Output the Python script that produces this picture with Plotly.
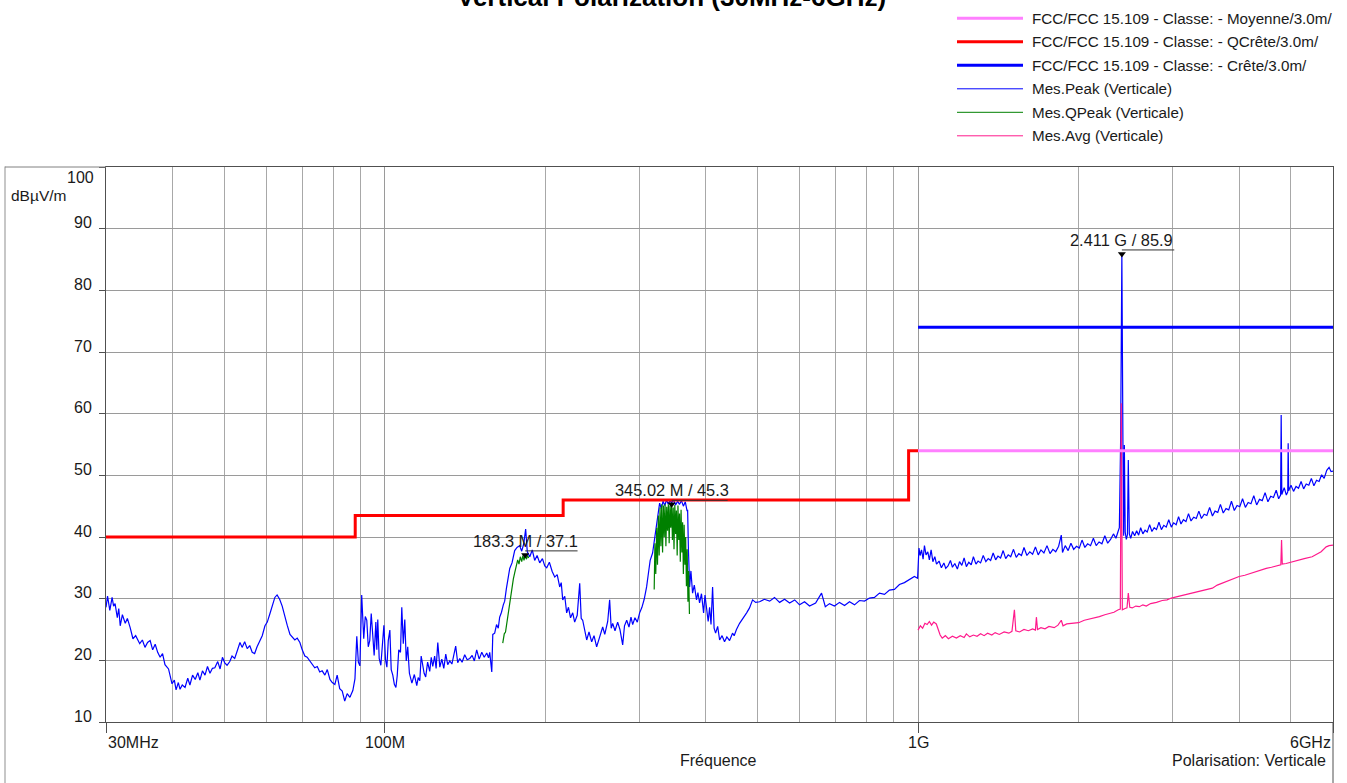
import numpy as np
import plotly.graph_objects as go

# ---------------------------------------------------------------- data
# Limit lines (frequency in MHz, level in dBuV/m)
LIMIT_QPEAK = [(30, 40.0), (88, 40.0), (88, 43.5), (216, 43.5), (216, 46.0),
               (960, 46.0), (960, 54.0), (1000, 54.0)]
LIMIT_AVG = [(1000, 54.0), (6000, 54.0)]
LIMIT_PEAK = [(1000, 74.0), (6000, 74.0)]

# Peak detector sweep, vertical polarisation
PEAK = [
    (30.0, 28.6), (30.2, 30.4), (30.5, 28.1), (30.8, 30.2), (31.0, 28.8), (31.2, 29.2),
    (31.5, 26.9), (31.7, 28.4), (31.9, 25.6), (32.2, 27.4), (32.6, 26.0), (32.9, 26.8),
    (33.3, 25.3), (33.7, 23.5), (34.1, 24.0), (34.7, 22.7), (35.1, 23.3), (35.5, 22.1),
    (35.9, 22.9), (36.3, 23.2), (36.7, 21.7), (37.1, 22.6), (37.5, 21.3), (37.9, 20.5),
    (38.3, 21.1), (38.7, 19.3), (39.3, 18.6), (39.9, 16.2), (40.3, 16.8), (40.6, 15.2),
    (41.0, 16.4), (41.3, 15.3), (41.7, 16.0), (42.2, 15.6), (42.7, 17.1), (43.1, 16.0),
    (43.6, 17.6), (44.1, 16.9), (44.6, 18.0), (45.0, 16.8), (45.5, 18.3), (46.0, 17.6),
    (46.5, 19.0), (47.0, 17.9), (47.5, 18.7), (48.0, 18.8), (48.6, 19.8), (49.1, 18.6),
    (49.6, 20.5), (50.1, 19.6), (50.6, 19.2), (51.2, 19.8), (51.7, 20.7), (52.3, 20.3),
    (52.9, 21.6), (53.5, 22.9), (54.0, 22.1), (54.6, 23.0), (55.2, 21.9), (55.8, 22.4),
    (56.4, 21.3), (57.0, 21.1), (57.6, 22.2), (58.3, 23.3), (58.9, 24.0), (59.6, 25.6),
    (60.2, 26.2), (60.9, 27.6), (61.5, 29.0), (62.2, 30.2), (62.8, 30.6), (63.5, 29.9),
    (64.2, 28.8), (64.9, 27.1), (65.6, 25.7), (66.4, 24.2), (67.1, 23.7), (67.8, 23.3),
    (68.5, 23.6), (69.3, 22.9), (70.0, 21.7), (70.8, 20.7), (71.5, 20.5), (72.3, 19.9),
    (73.1, 19.4), (73.9, 18.8), (74.7, 19.0), (75.5, 18.1), (76.3, 18.3), (77.2, 17.6),
    (78.0, 18.5), (78.9, 16.9), (79.7, 16.4), (80.6, 16.1), (81.4, 17.6), (82.3, 15.4),
    (83.2, 15.0), (84.1, 13.4), (85.0, 14.6), (86.0, 14.0), (87.1, 15.1), (87.9, 17.0),
    (88.6, 23.9), (89.2, 19.7), (89.8, 19.1), (90.5, 30.6), (91.3, 23.5), (91.9, 27.1),
    (92.5, 26.5), (93.1, 22.2), (93.7, 23.2), (94.3, 27.6), (94.9, 24.2), (95.5, 20.8),
    (96.2, 26.2), (96.6, 21.7), (97.0, 26.6), (97.6, 20.3), (98.3, 19.2), (98.9, 22.7),
    (99.6, 25.7), (100.3, 20.1), (100.9, 18.9), (101.5, 23.2), (102.2, 24.9), (102.8, 18.5),
    (103.5, 17.6), (104.2, 16.1), (104.9, 15.6), (105.5, 17.5), (106.2, 21.7), (107.0, 21.3),
    (107.6, 28.6), (108.3, 22.7), (109.0, 26.6), (109.7, 19.9), (110.4, 22.2), (111.2, 17.9),
    (112.4, 16.3), (113.6, 17.7), (114.8, 15.9), (115.5, 17.2), (116.3, 16.7), (117.0, 20.7),
    (117.8, 19.5), (118.5, 17.9), (119.3, 17.3), (120.3, 19.7), (121.4, 18.2), (122.2, 20.5),
    (123.0, 19.0), (124.0, 20.7), (124.8, 18.7), (125.7, 22.9), (126.8, 18.9), (127.9, 20.2),
    (129.0, 18.7), (130.1, 21.0), (131.2, 19.3), (132.4, 19.9), (133.6, 19.4), (134.7, 20.7),
    (135.8, 22.3), (137.0, 19.6), (138.2, 20.3), (139.6, 19.7), (141.2, 20.9), (142.7, 20.1),
    (144.3, 20.3), (145.8, 20.8), (147.2, 19.9), (148.7, 21.7), (150.3, 20.2), (152.0, 21.3),
    (153.6, 20.5), (155.3, 21.2), (156.5, 20.4), (157.3, 21.3), (158.7, 18.1), (159.4, 24.2),
    (160.7, 24.4), (162.0, 25.8), (163.2, 25.2), (164.2, 27.0), (165.5, 27.8), (166.8, 29.0),
    (167.8, 29.6), (169.0, 31.6), (170.2, 33.2), (171.5, 34.9), (173.2, 35.8), (175.2, 37.8),
    (177.0, 38.3), (179.0, 38.6), (180.6, 37.7), (182.2, 38.9), (183.7, 41.3), (185.0, 37.6),
    (187.0, 36.8), (189.0, 37.9), (191.0, 36.2), (193.0, 37.0), (195.2, 35.8), (197.5, 36.5),
    (199.5, 35.3), (201.2, 35.0), (203.5, 35.9), (206.0, 34.4), (208.3, 33.5), (210.5, 33.9),
    (212.8, 31.9), (214.2, 32.6), (215.6, 29.8), (217.5, 30.4), (219.3, 27.7), (221.0, 28.6),
    (223.0, 26.9), (225.1, 27.7), (227.0, 26.2), (229.5, 27.3), (232.0, 32.5), (233.5, 26.8),
    (235.0, 26.5), (237.0, 25.0), (239.1, 23.3), (241.5, 24.6), (244.3, 23.0), (246.8, 24.0),
    (249.6, 22.2), (252.5, 23.6), (256.2, 25.4), (258.5, 24.2), (261.8, 26.3), (264.0, 29.8),
    (265.8, 25.2), (267.5, 26.0), (270.2, 24.8), (273.3, 26.2), (276.0, 25.0), (279.3, 22.5),
    (281.5, 25.6), (284.2, 26.5), (287.0, 25.4), (289.5, 27.0), (291.6, 25.8), (294.5, 26.9),
    (297.5, 26.2), (300.5, 27.7), (303.5, 28.6), (306.5, 29.9), (309.7, 31.9), (312.0, 34.0),
    (314.5, 36.2), (317.8, 37.4), (320.5, 39.8), (323.5, 41.6), (325.5, 43.4), (327.6, 45.5),
    (330.0, 44.6), (332.5, 45.8), (335.0, 45.1), (337.5, 46.0), (340.0, 45.3), (342.5, 45.9),
    (345.0, 45.6), (348.0, 46.0), (351.0, 45.2), (354.0, 45.8), (357.0, 45.3), (360.0, 45.9),
    (363.0, 45.0), (366.0, 45.7), (368.9, 44.2), (369.7, 44.4), (371.0, 38.0), (372.9, 31.9),
    (375.0, 34.5), (377.7, 30.9), (380.5, 32.2), (384.2, 29.8), (386.5, 31.0), (389.3, 29.3),
    (392.5, 30.8), (396.1, 27.7), (398.5, 30.6), (401.3, 28.0), (404.0, 26.3), (406.5, 28.6),
    (409.0, 25.8), (411.8, 31.9), (414.5, 25.2), (417.2, 24.4), (420.9, 25.5), (424.5, 23.3),
    (429.0, 24.0), (433.6, 23.0), (438.0, 23.8), (443.1, 23.2), (448.8, 24.4), (452.0, 24.0),
    (456.5, 25.0), (462.7, 26.0), (468.0, 26.6), (477.0, 27.7), (483.0, 28.5), (489.4, 29.8),
    (496.0, 29.4), (504.5, 29.5), (515.0, 29.9), (526.8, 29.6), (538.0, 30.2), (550.0, 29.4),
    (562.0, 29.9), (574.3, 29.3), (587.0, 29.8), (599.5, 29.0), (612.5, 29.5), (625.9, 28.8),
    (642.5, 29.3), (659.2, 30.9), (670.0, 28.7), (682.3, 29.2), (697.0, 28.8), (712.4, 29.4),
    (728.0, 28.9), (743.8, 29.5), (760.0, 29.0), (776.5, 29.7), (793.5, 29.6), (810.8, 30.1),
    (828.5, 30.2), (846.5, 30.9), (865.0, 30.7), (883.8, 31.4), (903.0, 31.5), (922.7, 32.3),
    (942.8, 32.6), (963.3, 33.1), (984.3, 33.6), (998.0, 33.3),
    (1000, 36.8), (1004, 38.2), (1009, 37.0), (1015, 37.9), (1022, 36.4), (1028, 38.6),
    (1035, 37.1), (1043, 37.6), (1050, 36.3), (1058, 37.9), (1066, 36.0), (1075, 36.8),
    (1083, 35.6), (1095, 36.1), (1106, 35.0), (1118, 35.8), (1127, 34.9), (1138, 35.3),
    (1150, 36.2), (1160, 35.1), (1172, 35.7), (1185, 34.8), (1196, 36.0), (1208, 35.4),
    (1220, 36.6), (1232, 35.2), (1245, 35.9), (1258, 35.5), (1270, 36.8), (1284, 35.6),
    (1296, 36.1), (1310, 35.8), (1325, 37.0), (1340, 36.0), (1354, 36.5), (1368, 36.2),
    (1383, 37.4), (1398, 36.3), (1412, 36.9), (1428, 36.6), (1444, 37.8), (1460, 36.5),
    (1476, 37.1), (1492, 36.8), (1510, 38.0), (1528, 36.7), (1545, 37.3), (1563, 37.0),
    (1580, 38.3), (1600, 37.0), (1620, 37.6), (1640, 37.2), (1660, 38.4), (1680, 37.1),
    (1700, 37.9), (1722, 37.4), (1745, 38.6), (1768, 37.3), (1790, 38.0), (1812, 37.6),
    (1835, 38.5), (1856, 40.3), (1866, 37.5), (1888, 38.6), (1912, 37.8), (1935, 39.0),
    (1958, 38.0), (1982, 38.5), (2006, 38.2), (2030, 39.5), (2055, 38.3), (2080, 38.9),
    (2106, 38.6), (2132, 39.8), (2158, 38.6), (2185, 39.2), (2212, 38.9), (2240, 40.2),
    (2268, 39.0), (2296, 39.6), (2325, 40.5), (2350, 39.8), (2372, 40.9), (2385, 41.5),
    (2398, 55.5), (2411, 85.9), (2422, 55.5), (2430, 40.2), (2437, 54.9), (2446, 40.8),
    (2458, 39.6), (2470, 40.4), (2479, 52.5), (2490, 40.5),
    (2505, 39.8), (2525, 40.9), (2548, 40.2), (2570, 41.0), (2592, 40.3), (2615, 41.5),
    (2640, 40.5), (2665, 41.1), (2690, 40.8), (2718, 42.0), (2745, 40.9), (2772, 41.5),
    (2800, 41.2), (2830, 42.4), (2860, 41.2), (2890, 41.9), (2920, 41.6), (2952, 42.8),
    (2985, 41.6), (3015, 42.3), (3048, 42.0), (3080, 43.3), (3112, 42.1), (3145, 42.8),
    (3180, 42.5), (3215, 43.8), (3250, 42.6), (3288, 43.2), (3325, 43.0), (3362, 44.2),
    (3400, 43.0), (3440, 43.7), (3480, 43.5), (3522, 44.8), (3565, 43.4), (3605, 44.2),
    (3648, 44.0), (3690, 45.3), (3735, 43.9), (3780, 44.6), (3825, 44.4), (3870, 45.8),
    (3918, 44.3), (3965, 45.1), (4012, 44.9), (4060, 46.2), (4110, 44.8), (4160, 45.6),
    (4210, 45.4), (4262, 46.7), (4315, 45.2), (4368, 46.1), (4420, 45.9), (4475, 47.2),
    (4530, 45.7), (4585, 46.6), (4640, 46.4), (4695, 47.6), (4745, 46.2), (4785, 46.8),
    (4797, 59.8), (4810, 46.9), (4860, 48.0), (4905, 46.8), (4935, 47.3), (4944, 55.2),
    (4955, 47.5), (5005, 48.4), (5060, 47.4), (5115, 48.2), (5170, 47.9), (5228, 49.0),
    (5285, 47.8), (5345, 48.6), (5405, 48.4), (5465, 49.5), (5525, 48.3), (5588, 49.2),
    (5650, 49.0), (5712, 50.1), (5775, 49.5), (5840, 50.8), (5900, 51.3), (5950, 50.6),
    (6000, 50.7),
]

# Quasi-peak detector, measured only around the two emission bands
QPEAK_BAND1 = [
    (166.4, 22.8), (167.5, 24.3), (168.4, 24.6), (169.3, 26.1), (170.4, 27.8), (171.5, 29.2),
    (172.3, 30.9), (173.2, 31.8), (174.2, 33.2), (175.2, 34.2), (176.3, 35.4), (177.5, 36.3),
    (178.5, 35.6), (179.5, 36.8), (180.6, 36.0), (181.5, 37.0), (182.4, 36.2), (183.3, 37.1),
    (184.3, 36.4), (185.2, 37.0), (186.2, 36.6),
]
QPEAK_BAND2 = [
    (320.0, 31.5), (321.0, 39.0), (322.2, 34.0), (323.5, 41.5), (324.6, 35.5), (325.8, 43.5),
    (327.0, 37.0), (328.2, 44.8), (329.4, 38.5), (330.6, 45.3), (331.8, 37.5), (333.0, 45.1),
    (334.2, 40.0), (335.4, 45.3), (336.6, 38.5), (337.8, 44.9), (339.0, 41.0), (340.2, 45.3),
    (341.4, 39.0), (342.6, 45.1), (343.8, 41.5), (345.0, 45.3), (346.2, 39.5), (347.4, 44.8),
    (348.6, 38.0), (349.8, 45.2), (351.0, 40.5), (352.2, 44.3), (353.4, 37.0), (354.6, 45.1),
    (355.8, 39.5), (357.0, 43.8), (358.2, 36.0), (359.4, 44.4), (360.6, 37.5), (361.8, 42.4),
    (363.0, 34.0), (364.2, 42.0), (365.4, 35.5), (366.6, 40.0), (367.8, 32.0), (369.0, 38.0),
    (370.2, 29.5), (371.4, 34.5), (372.6, 27.5),
]

# Average detector, 1-6 GHz
AVG = [
    (1000, 24.9), (1010, 25.6), (1020, 25.2), (1030, 26.0), (1040, 25.8), (1050, 26.3),
    (1060, 25.7), (1070, 26.2), (1082, 25.9), (1090, 24.9), (1100, 24.1), (1110, 23.6),
    (1125, 24.0), (1140, 23.5), (1160, 23.9), (1180, 23.6), (1200, 24.0), (1220, 23.7),
    (1232, 24.3), (1250, 23.8), (1270, 24.1), (1290, 23.9), (1310, 24.3), (1330, 24.0),
    (1350, 24.4), (1375, 24.1), (1395, 24.5), (1420, 24.2), (1450, 24.6), (1480, 24.4),
    (1500, 24.7), (1516, 28.2), (1525, 24.8), (1550, 24.6), (1580, 25.0), (1610, 24.8),
    (1640, 25.1), (1660, 24.9), (1667, 27.0), (1675, 25.0), (1700, 25.3), (1730, 25.1),
    (1760, 25.5), (1800, 25.3), (1830, 25.7), (1856, 26.5), (1870, 25.6), (1900, 25.9),
    (1950, 26.0), (2000, 26.1), (2050, 26.5), (2100, 26.7), (2150, 27.0), (2188, 27.1),
    (2240, 27.4), (2290, 27.6), (2330, 27.8), (2374, 28.2), (2395, 28.3), (2405, 61.7),
    (2416, 28.2), (2445, 28.4), (2465, 28.5), (2479, 30.9), (2495, 28.6), (2522, 28.5),
    (2560, 28.8), (2600, 28.7), (2640, 29.0), (2679, 28.8), (2730, 29.2), (2800, 29.4),
    (2870, 29.7), (2930, 29.8), (2985, 30.1), (3050, 30.3), (3120, 30.5), (3200, 30.7),
    (3260, 30.8), (3325, 31.1), (3400, 31.2), (3480, 31.4), (3564, 31.7), (3640, 32.2),
    (3720, 32.5), (3800, 32.9), (3880, 33.1), (4000, 33.6), (4100, 33.8), (4200, 34.1),
    (4300, 34.4), (4400, 34.6), (4497, 34.9), (4600, 35.1), (4700, 35.3), (4790, 35.5),
    (4805, 39.5), (4820, 35.6), (4900, 35.7), (5032, 36.0), (5150, 36.2), (5300, 36.5),
    (5483, 36.8), (5600, 37.2), (5700, 37.6), (5826, 38.4), (5900, 38.6), (6000, 38.7),
]

# Marked maxima: (frequency MHz, level, label)
MARKERS = [(183.3, 37.1, "183.3 M / 37.1"),
           (345.02, 45.3, "345.02 M / 45.3"),
           (2411, 85.9, "2.411 G / 85.9")]

Y_TICKS = [10, 20, 30, 40, 50, 60, 70, 80, 90, 100]
X_MAJOR = [30, 100, 1000, 6000]
X_GRID = [40, 50, 60, 70, 80, 90, 200, 300, 400, 500, 600, 700, 800, 900,
          2000, 3000, 4000, 5000]
X_LABELS = [(30, "30MHz", "left"), (100, "100M", "center"),
            (1000, "1G", "center"), (6000, "6GHz", "right")]

LEGEND = [
    ("FCC/FCC 15.109 - Classe: - Moyenne/3.0m/", "#ff80ff", 3),
    ("FCC/FCC 15.109 - Classe: - QCrête/3.0m/", "#ff0000", 3),
    ("FCC/FCC 15.109 - Classe: - Crête/3.0m/", "#0000ff", 3),
    ("Mes.Peak (Verticale)", "#0000ff", 1),
    ("Mes.QPeak (Verticale)", "#008000", 1),
    ("Mes.Avg (Verticale)", "#ff1a8c", 1),
]

# ---------------------------------------------------------------- layout geometry
W, H = 1347, 783
ML, MR, MT, MB = 106, 14, 167, 61
PW, PH = W - ML - MR, H - MT - MB
FONT = "Liberation Sans, Arial, sans-serif"
TXT = "#1a1a1a"


def px(x):
    """page x pixel -> paper coordinate"""
    return (x - ML) / PW


def py(y):
    """page y pixel -> paper coordinate"""
    return (H - MB - y) / PH


def split(pairs):
    return [p[0] for p in pairs], [p[1] for p in pairs]


fig = go.Figure()

# measurement traces
x, y = split(PEAK)
fig.add_trace(go.Scatter(x=x, y=y, mode="lines", line=dict(color="#0000ff", width=1.2)))
x1, y1 = split(QPEAK_BAND1)
x2, y2 = split(QPEAK_BAND2)
fig.add_trace(go.Scatter(x=x1 + [None] + x2, y=y1 + [None] + y2, mode="lines",
                         line=dict(color="#008000", width=1.2), connectgaps=False))
x, y = split(AVG)
fig.add_trace(go.Scatter(x=x, y=y, mode="lines", line=dict(color="#ff1a8c", width=1.2)))

# limit lines
for pairs, col in [(LIMIT_QPEAK, "#ff0000"), (LIMIT_AVG, "#ff80ff"), (LIMIT_PEAK, "#0000ff")]:
    x, y = split(pairs)
    fig.add_trace(go.Scatter(x=x, y=y, mode="lines", line=dict(color=col, width=3)))

# marker points
fig.add_trace(go.Scatter(x=[m[0] for m in MARKERS], y=[m[1] for m in MARKERS], mode="markers",
                         marker=dict(symbol="triangle-down", size=7, color="#000000")))

annotations = []
shapes = []

for f, v, label in MARKERS:
    annotations.append(dict(x=np.log10(f), y=v, xref="x", yref="y", text=label,
                            showarrow=False, yshift=14, xanchor="center", yanchor="middle",
                            font=dict(family=FONT, size=16.4, color=TXT)))
    half = 2 + 3.6 * len(label)
    shapes.append(dict(type="line", xref="x", yref="y", xsizemode="pixel", ysizemode="pixel",
                       xanchor=f, yanchor=v, x0=-half, x1=half, y0=4, y1=4,
                       line=dict(color="#303030", width=1)))

# axis labels
for f, t, anchor in X_LABELS:
    annotations.append(dict(x=np.log10(f), y=py(742), xref="x", yref="paper", text=t,
                            showarrow=False, xanchor=anchor, yanchor="middle",
                            font=dict(family=FONT, size=16, color=TXT)))
annotations += [
    dict(x=px(718), y=py(760), xref="paper", yref="paper", text="Fréquence", showarrow=False,
         xanchor="center", yanchor="middle", font=dict(family=FONT, size=16, color=TXT)),
    dict(x=px(1328), y=py(760), xref="paper", yref="paper", text="Polarisation: Verticale",
         showarrow=False, xanchor="right", yanchor="middle",
         font=dict(family=FONT, size=16, color=TXT)),
    dict(x=px(96), y=py(177), xref="paper", yref="paper", text="100", showarrow=False,
         xanchor="right", yanchor="middle", font=dict(family=FONT, size=16, color=TXT)),
    dict(x=px(9), y=py(195), xref="paper", yref="paper", text="dBµV/m", showarrow=False,
         xanchor="left", yanchor="middle", font=dict(family=FONT, size=15.5, color=TXT)),
    dict(x=px(671), y=py(-3), xref="paper", yref="paper",
         text="<b>Vertical Polarization (30MHz-6GHz)</b>", showarrow=False,
         xanchor="center", yanchor="middle", font=dict(family=FONT, size=26, color="#000000")),
]

# hand-drawn legend block
for i, (name, col, lw) in enumerate(LEGEND):
    yy = py(18.3 + 23.5 * i)
    shapes.append(dict(type="line", xref="paper", yref="paper", x0=px(957), x1=px(1023),
                       y0=yy, y1=yy, line=dict(color=col, width=lw)))
    annotations.append(dict(x=px(1030), y=yy, xref="paper", yref="paper", text=name,
                            showarrow=False, xanchor="left", yanchor="middle",
                            font=dict(family=FONT, size=15.2, color=TXT)))

# outer frame around the plotting panel
shapes += [
    dict(type="line", xref="paper", yref="paper", x0=px(5), x1=px(5), y0=py(786), y1=py(166.5),
         line=dict(color="#b4b4b4", width=1.5)),
    dict(type="line", xref="paper", yref="paper", x0=px(5), x1=0, y0=1, y1=1,
         line=dict(color="#808080", width=1)),
    dict(type="line", xref="paper", yref="paper", x0=1, x1=1, y0=0, y1=py(786),
         line=dict(color="#505050", width=1)),
]

fig.update_layout(
    width=W, height=H, margin=dict(l=ML, r=MR, t=MT, b=MB, pad=0),
    paper_bgcolor="white", plot_bgcolor="white", showlegend=False,
    font=dict(family=FONT, size=16, color=TXT),
    annotations=annotations, shapes=shapes,
    xaxis=dict(type="log", range=[np.log10(30), np.log10(6000)], tickvals=X_MAJOR,
               showticklabels=False, ticks="outside", ticklen=10, tickcolor="#505050",
               showgrid=True, gridcolor="#9a9a9a", gridwidth=1,
               minor=dict(tickvals=X_GRID, showgrid=True, gridcolor="#a8a8a8", ticks=""),
               showline=True, linecolor="#505050", linewidth=1, mirror=True, zeroline=False),
    yaxis=dict(range=[10, 100], tickvals=Y_TICKS,
               ticktext=[str(v) if v < 100 else "" for v in Y_TICKS],
               ticks="outside", ticklen=6, tickcolor="#505050",
               tickfont=dict(family=FONT, size=16, color=TXT), ticklabelshift=-6,
               ticklabelstandoff=4,
               showgrid=True, gridcolor="#9a9a9a", gridwidth=1,
               showline=True, linecolor="#505050", linewidth=1, mirror=True, zeroline=False),
)

fig.write_html("out.html")
